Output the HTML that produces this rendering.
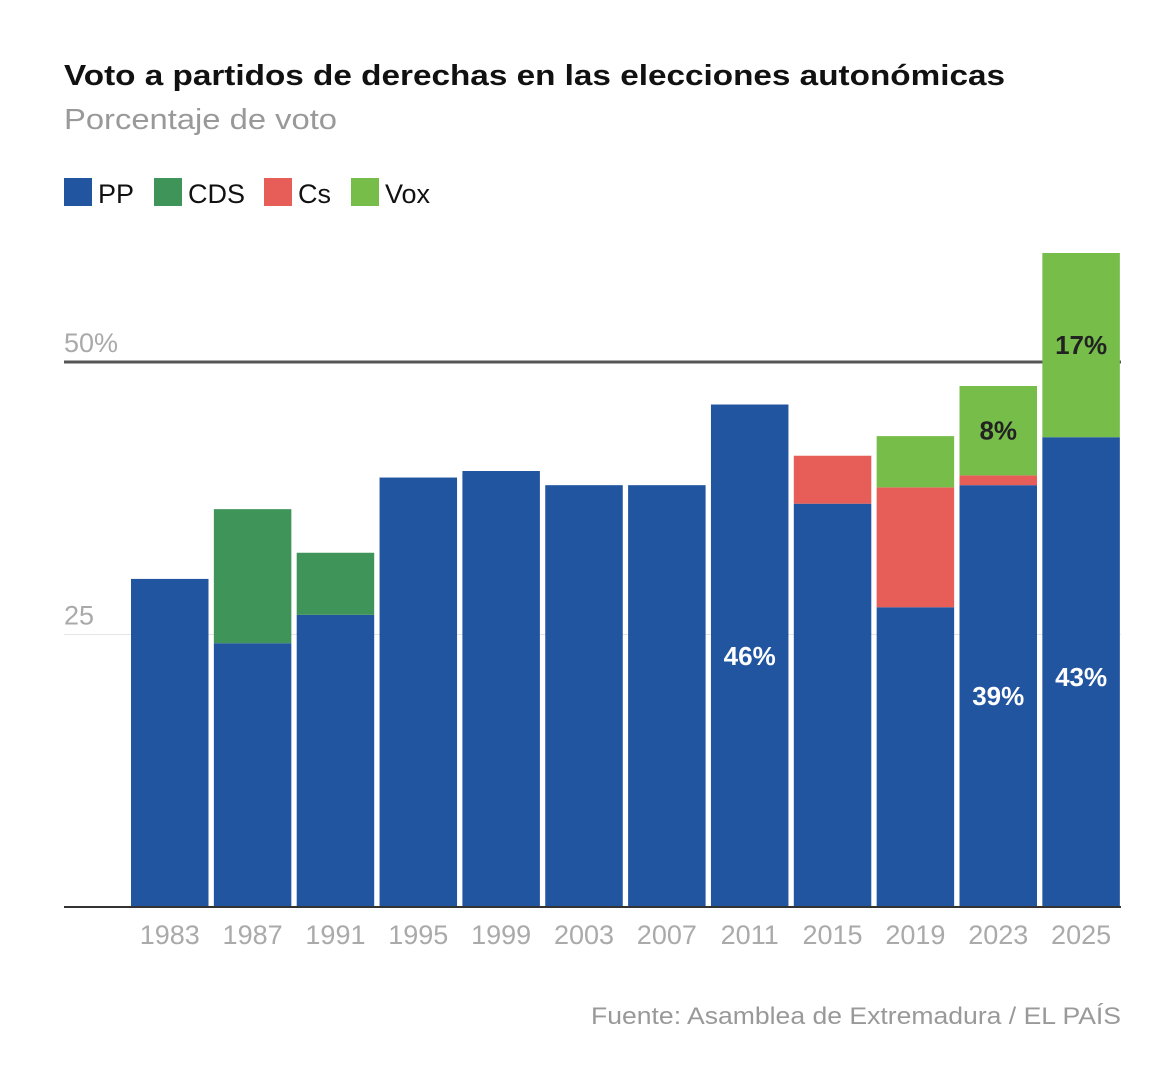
<!DOCTYPE html>
<html><head><meta charset="utf-8"><style>
body{margin:0;background:#fff;width:1168px;height:1068px;overflow:hidden;font-family:"Liberation Sans",sans-serif}
</style></head><body>
<svg width="1168" height="1068" xmlns="http://www.w3.org/2000/svg">
<text x="64" y="85" font-size="29" font-weight="bold" fill="#111" textLength="941" lengthAdjust="spacingAndGlyphs">Voto a partidos de derechas en las elecciones autonómicas</text>
<text x="64" y="129" font-size="29" fill="#999" textLength="273" lengthAdjust="spacingAndGlyphs">Porcentaje de voto</text>
<g>
<rect x="64" y="178" width="28" height="28" fill="#2255a0"/><text x="98" y="203" font-size="27" fill="#111">PP</text>
<rect x="154" y="178" width="28" height="28" fill="#3f945a"/><text x="188" y="203" font-size="27" fill="#111">CDS</text>
<rect x="264" y="178" width="28" height="28" fill="#e65e57"/><text x="298" y="203" font-size="27" fill="#111">Cs</text>
<rect x="351" y="178" width="28" height="28" fill="#76bd4a"/><text x="385" y="203" font-size="27" fill="#111">Vox</text>
</g>
<g id="plot"></g>
<text x="591" y="1024" font-size="24" fill="#999" textLength="530" lengthAdjust="spacingAndGlyphs">Fuente: Asamblea de Extremadura / EL PAÍS</text>
</svg>
<script>
const years=["1983","1987","1991","1995","1999","2003","2007","2011","2015","2019","2023","2025"];
const pp=[30.1,24.2,26.8,39.4,40.0,38.7,38.7,46.1,37.0,27.5,38.7,43.1];
const cds=[0,12.3,5.7,0,0,0,0,0,0,0,0,0];
const cs=[0,0,0,0,0,0,0,0,4.4,11.0,0.9,0];
const vox=[0,0,0,0,0,0,0,0,0,4.7,8.2,16.9];
const ticks=[25,50];
const tickLabels=["25","50%"];
const labels=[{i:7,s:"pp",t:"46%"},{i:10,s:"pp",t:"39%"},{i:11,s:"pp",t:"43%"},{i:10,s:"vox",t:"8%"},{i:11,s:"vox",t:"17%"}];
const NS="http://www.w3.org/2000/svg",g=document.getElementById("plot");
const y=v=>907-v*10.9, x0=131, step=82.85, bw=77.5;
const xb=i=>x0+i*step;
function mk(t,a){const e=document.createElementNS(NS,t);for(const k in a)e.setAttribute(k,a[k]);g.appendChild(e);return e;}
ticks.forEach((t,k)=>{
 const l=mk("line",{x1:64,x2:1121,y1:y(t),y2:y(t),stroke:t==50?"#555":"#e4e4e4","stroke-width":t==50?3:1});
 
 
 const tx=mk("text",{x:64,y:y(t)-10,"font-size":27,fill:"#aaa"});tx.textContent=tickLabels[k];
 
 
});
const series=[["pp",pp,"#2255a0"],["cds",cds,"#3f945a"],["cs",cs,"#e65e57"],["vox",vox,"#76bd4a"]];
const segs={};
years.forEach((yr,i)=>{
 let base=0;
 series.forEach(([n,arr,c])=>{
  const v=arr[i]; segs[n+i]=[base,base+v];
  if(v>0){const r=mk("rect",{x:xb(i),y:y(base+v),width:bw,height:y(base)-y(base+v),fill:c});
   
   }
  base+=v;
 });
 const t=mk("text",{x:xb(i)+bw/2,y:944,"font-size":27,fill:"#aaa","text-anchor":"middle"});t.textContent=yr;
 
 
});
labels.forEach(L=>{
 const [a,b]=segs[L.s+L.i];
 const off=(L.i==11&&L.s=="pp")?14:9;
 const t=mk("text",{x:xb(L.i)+bw/2,y:(y(a)+y(b))/2+off,"font-size":26,"font-weight":"bold",fill:L.s=="pp"?"#fff":"#222","text-anchor":"middle"});
 t.textContent=L.t;
 
 
});
const bl=mk("line",{x1:64,x2:1121,y1:907,y2:907,stroke:"#333","stroke-width":2});


</script>
</body></html>
